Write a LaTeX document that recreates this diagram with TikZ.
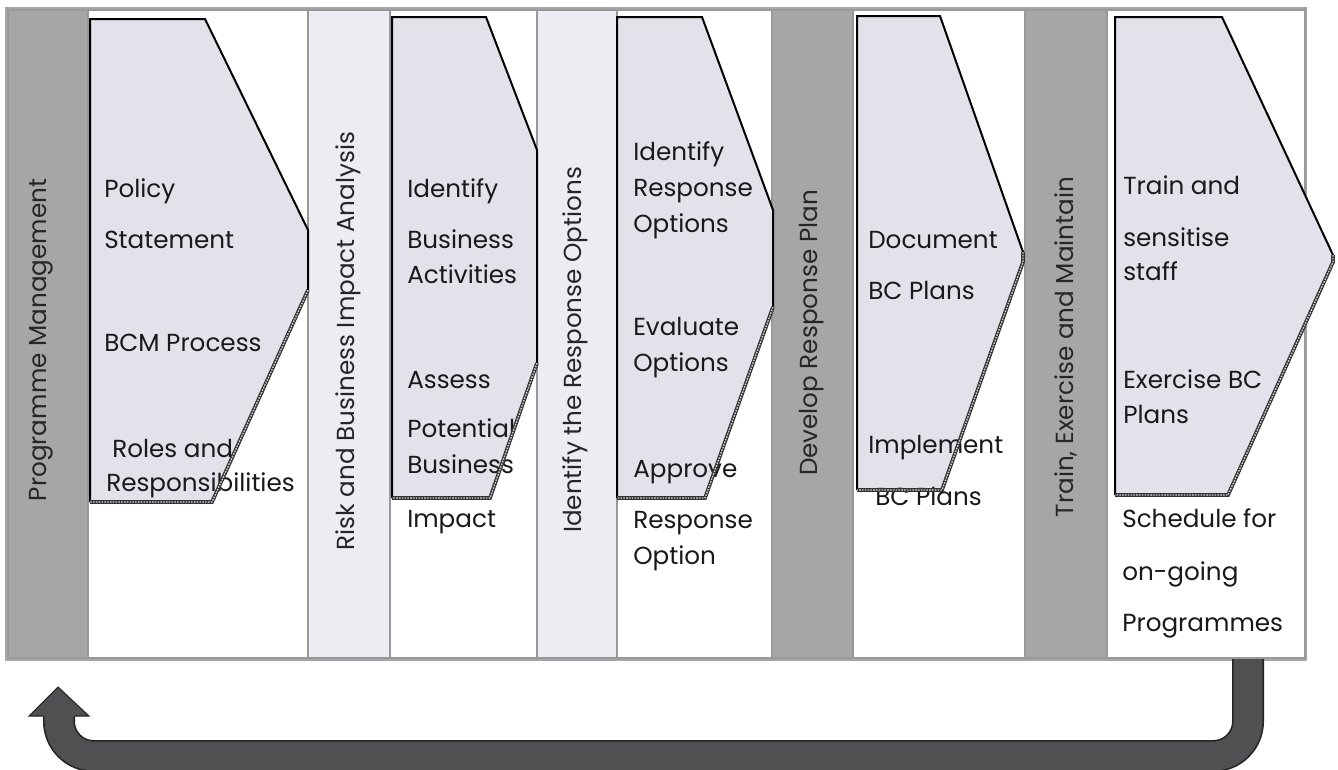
\documentclass[tikz,border=0pt]{standalone}
\usepackage{fontspec}
\setmainfont{Poppins}
\newcommand{\bcmfont}{\fontsize{18.5}{21}\selectfont}
\definecolor{stripdark}{RGB}{166,166,166}
\definecolor{striplight}{RGB}{236,237,243}
\definecolor{chevfill}{RGB}{226,227,234}
\definecolor{loopgray}{RGB}{80,80,82}
\tikzset{
  steptext/.style={anchor=base west, inner sep=0pt, font=\bcmfont, text=black!90},
  striplabel/.style={rotate=90, inner sep=0pt, font=\bcmfont, text=black!85},
  colframe/.style={draw=gray!80, line width=0.8pt},
  chevtop/.style={draw=black, line width=1.5pt, line join=miter},
  chevshadow/.style={draw=gray!35, line width=1pt, dash pattern=on 1.2pt off 0.9pt,
    preaction={draw=black!80, line width=2.8pt}},
}
\begin{document}
\begin{tikzpicture}[x=0.75pt,y=0.75pt,yscale=-1,xscale=1]
\useasboundingbox (0,0) rectangle (1338,769);

%Outer frame
\draw [draw=gray!70, line width=1.2pt] (6,8) rectangle (1306,660);

%Strips and boxes
\draw [colframe, fill=stripdark] (8,10) rectangle (88,658);
\draw [colframe, fill=white] (88,10) rectangle (308,658);
\draw [colframe, fill=striplight] (308,10) rectangle (390,658);
\draw [colframe, fill=white] (390,10) rectangle (537,658);
\draw [colframe, fill=striplight] (537,10) rectangle (617,658);
\draw [colframe, fill=white] (617,10) rectangle (772,658);
\draw [colframe, fill=stripdark] (772,10) rectangle (853,658);
\draw [colframe, fill=white] (853,10) rectangle (1025,658);
\draw [colframe, fill=stripdark] (1025,10) rectangle (1107,658);
\draw [colframe, fill=white] (1107,10) rectangle (1305,658);

%Chevron fills
\fill [chevfill] (90,19) -- (205,19) -- (308,230) -- (308,290) -- (212,502) -- (90,502) -- cycle;
\fill [chevfill] (392,17) -- (486,17) -- (537,150) -- (537,363) -- (490,498) -- (392,498) -- cycle;
\fill [chevfill] (617,17) -- (702,17) -- (773,210) -- (773,307) -- (705,498) -- (617,498) -- cycle;
\fill [chevfill] (857,16) -- (940,16) -- (1023,252) -- (1023,262) -- (942,490) -- (857,490) -- cycle;
\fill [chevfill] (1115,17) -- (1222,17) -- (1333,255) -- (1333,262) -- (1228,495) -- (1115,495) -- cycle;

% Strip labels
\node (pm) at (41,340) [striplabel] {Programme Management};
\node (rbia) at (348,341) [striplabel] {Risk and Business Impact Analysis};
\node (iro) at (575,350) [striplabel] {Identify the Response Options};
\node (drp) at (812,333) [striplabel] {Develop Response Plan};
\node (tem) at (1066,347) [striplabel] {Train, Exercise and Maintain};

% Text Node
\node (pol) at (104,197) [steptext] {Policy};
\node (stm) at (104,248) [steptext] {Statement};
\node (bcmp) at (104,351) [steptext] {BCM Process};
\node (rol) at (112,457) [steptext] {Roles and};
\node (resp) at (106,491) [steptext] {Responsibilities};
% Text Node
\node (idb) at (407,197) [steptext] {Identify};
\node (bus) at (407,248) [steptext] {Business};
\node (act) at (407,283) [steptext] {Activities};
\node (ass) at (407,388) [steptext] {Assess};
\node (pot) at (407,437) [steptext] {Potential};
\node (bus2) at (407,473) [steptext] {Business};
\node (imp) at (407,527) [steptext] {Impact};
% Text Node
\node (idr) at (633,160) [steptext] {Identify};
\node (rsp) at (633,196) [steptext] {Response};
\node (opt) at (633,232) [steptext] {Options};
\node (eva) at (633,335) [steptext] {Evaluate};
\node (opt2) at (633,371) [steptext] {Options};
\node (app) at (633,477) [steptext] {Approve};
\node (rsp2) at (633,528) [steptext] {Response};
\node (opt3) at (633,564) [steptext] {Option};
% Text Node
\node (doc) at (868,248) [steptext] {Document};
\node (bcp) at (868,299) [steptext] {BC Plans};
\node (impl) at (868,453) [steptext] {Implement};
\node (bcp2) at (875,505) [steptext] {BC Plans};
% Text Node
\node (trn) at (1123,194) [steptext] {Train and};
\node (sen) at (1123,246) [steptext] {sensitise};
\node (stf) at (1123,280) [steptext] {staff};
\node (exc) at (1123,388) [steptext] {Exercise BC};
\node (pln) at (1123,423) [steptext] {Plans};
\node (sch) at (1122,527) [steptext] {Schedule for};
\node (ong) at (1122,580) [steptext] {on-going};
\node (prg) at (1122,631) [steptext] {Programmes};

%Chevron outlines
\draw [chevtop] (90,502) -- (90,19) -- (205,19) -- (308,230) -- (308,290);
\draw [chevshadow] (308,290) -- (212,502) -- (90,502);
\draw [chevtop] (392,498) -- (392,17) -- (486,17) -- (537,150) -- (537,363);
\draw [chevshadow] (537,363) -- (490,498) -- (392,498);
\draw [chevtop] (617,498) -- (617,17) -- (702,17) -- (773,210) -- (773,307);
\draw [chevshadow] (773,307) -- (705,498) -- (617,498);
\draw [chevtop] (857,490) -- (857,16) -- (940,16) -- (1023,252);
\draw [chevshadow] (1023,252) -- (1023,262) -- (942,490) -- (857,490);
\draw [chevtop] (1115,495) -- (1115,17) -- (1222,17) -- (1333,255);
\draw [chevshadow] (1333,255) -- (1333,262) -- (1228,495) -- (1115,495);

%Loop back arrow
\coordinate (loopstart) at (1248,659);
\coordinate (loopend) at (59,716);
\coordinate (loopbase) at (0,756);
\coordinate (headtip) at (58,687);
\coordinate (headleft) at (29,716);
\coordinate (headright) at (89,716);
\coordinate (shaftleft) at (43,716);
\coordinate (shaftright) at (75,716);
\draw [draw=black!85, line width=24pt, rounded corners=26pt] (loopstart) -- (loopstart |- loopbase) -- (loopend |- loopbase) -- (loopend);
\draw [draw=loopgray, line width=21.5pt, rounded corners=26pt] (loopstart) -- (loopstart |- loopbase) -- (loopend |- loopbase) -- (loopend);
\filldraw [fill=loopgray, draw=black!85, line width=0.8pt, line join=miter] (shaftleft) -- (headleft) -- (headtip) -- (headright) -- (shaftright);
\end{tikzpicture}
\end{document}
